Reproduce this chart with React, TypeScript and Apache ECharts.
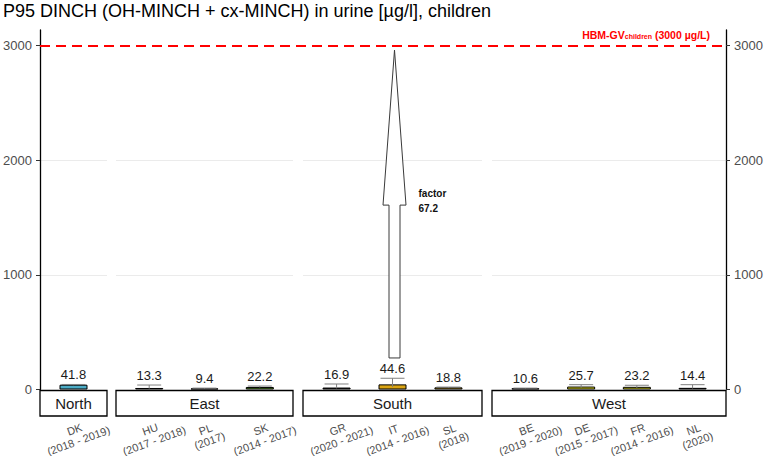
import React, { useEffect, useRef } from "react";
import * as echarts from "echarts";

const TITLE = "P95 DINCH (OH-MINCH + cx-MINCH) in urine [µg/l], children";
const REGIONS = ["North", "East", "South", "West"];
const COUNTRIES = [["DK"], ["HU", "PL", "SK"], ["GR", "IT", "SL"], ["BE", "DE", "FR", "NL"]];
const PERIODS = [
  ["2018 - 2019"],
  ["2017 - 2018", "2017", "2014 - 2017"],
  ["2020 - 2021", "2014 - 2016", "2018"],
  ["2019 - 2020", "2015 - 2017", "2014 - 2016", "2020"],
];
const P95 = [[41.8], [13.3, 9.4, 22.2], [16.9, 44.6, 18.8], [10.6, 25.7, 23.2, 14.4]];
const CI_LOW = [[38], [8, 7, 18], [10, 22, 15], [8, 15, 14, 9]];
const CI_UP = [[44], [39, 12, 30], [48, 98, 21], [12, 42, 37, 42]];
const BAR_COLORS = [
  ["#4bacc6"],
  ["#222222", "#222222", "#4e8a1e"],
  ["#222222", "#dba514", "#c9a227"],
  ["#222222", "#e6e01a", "#e6e01a", "#222222"],
];
const Y_TICKS = [0, 1000, 2000, 3000];
const Y_MAX = 3135;
const HBM_GV = 3000;
const ARROW = { region: 2, index: 1, from: 275, headBase: 1608, to: 2960, factor: "67.2" };

const PANEL_X = [
  [40, 107],
  [116, 293],
  [303, 482],
  [492, 726],
];
const PLOT_TOP = 30;
const PLOT_H = 359.5;
const FONT = "Liberation Sans, Arial, sans-serif";
const LABEL_ROT = (20 * Math.PI) / 180;

export default function App() {
  const ref = useRef<HTMLDivElement>(null);
  useEffect(() => {
    if (!ref.current) return;
    const chart = echarts.init(ref.current, null, { renderer: "svg" });

    const grids: any[] = PANEL_X.map(([a, b]) => ({
      left: a,
      width: b - a,
      top: PLOT_TOP,
      height: PLOT_H,
      outerBoundsMode: "none",
      containLabel: false,
    }));
    grids.push({
      left: PANEL_X[0][0],
      width: PANEL_X[3][1] - PANEL_X[0][0],
      top: PLOT_TOP,
      height: PLOT_H,
      outerBoundsMode: "none",
      containLabel: false,
    });

    const xAxes: any[] = COUNTRIES.map((cs, i) => ({
      type: "value",
      gridIndex: i,
      min: -0.6,
      max: cs.length - 0.4,
      axisLine: { show: false, onZero: false },
      axisTick: { show: false },
      splitLine: { show: false },
      axisLabel: { show: false },
    }));
    xAxes.push({ type: "value", gridIndex: 4, min: 0, max: 1, show: false });

    const yAxes: any[] = COUNTRIES.map((_, i) => {
      const vis = i === 0 || i === 3;
      return {
        type: "value",
        gridIndex: i,
        min: 0,
        max: Y_MAX,
        interval: 1000,
        position: i === 3 ? "right" : "left",
        axisLine: { show: vis, onZero: false, lineStyle: { color: "#000", width: 1.3 } },
        axisTick: { show: vis, length: 4, customValues: Y_TICKS, lineStyle: { color: "#333", width: 1 } },
        axisLabel: {
          show: vis,
          customValues: Y_TICKS,
          formatter: (v: number) => String(v),
          color: "#4d4d4d",
          fontSize: 13,
          margin: 8,
          fontFamily: FONT,
        },
        splitLine: { show: true, showMaxLine: false, showMinLine: false, lineStyle: { color: "#ebebeb", width: 1 } },
      };
    });
    yAxes.push({ type: "value", gridIndex: 4, min: 0, max: Y_MAX, show: false });

    const series: any[] = [];
    COUNTRIES.forEach((cs, i) => {
      series.push({
        type: "bar",
        xAxisIndex: i,
        yAxisIndex: i,
        barWidth: 28,
        data: P95[i].map((v, j) => ({ value: [j, v], itemStyle: { color: BAR_COLORS[i][j] } })),
        itemStyle: { borderColor: "#000", borderWidth: 1 },
        silent: true,
      });
      series.push({
        type: "custom",
        xAxisIndex: i,
        yAxisIndex: i,
        z: 3,
        silent: true,
        clip: false,
        data: P95[i].map((v, j) => [j, v, CI_LOW[i][j], CI_UP[i][j]]),
        renderItem: (params: any, api: any) => {
          const j = params.dataIndex;
          const x = api.value(0);
          const v = api.value(1);
          const lo = api.value(2);
          const hi = api.value(3);
          const top = api.coord([x, hi]);
          const bot = api.coord([x, lo]);
          const vt = api.coord([x, v]);
          const base = api.coord([x, 0]);
          const cx = top[0];
          const half = 12;
          const labelY = Math.min(top[1], vt[1]) - 3;
          return {
            type: "group",
            children: [
              { type: "line", shape: { x1: cx, y1: bot[1], x2: cx, y2: top[1] }, style: { stroke: "#808080", lineWidth: 1 } },
              { type: "line", shape: { x1: cx - half, y1: top[1], x2: cx + half, y2: top[1] }, style: { stroke: "#808080", lineWidth: 1 } },
              {
                type: "text",
                x: cx,
                y: labelY,
                style: { text: v.toFixed(1), fontSize: 13, fill: "#1a1a1a", align: "center", verticalAlign: "bottom", fontFamily: FONT },
              },
              {
                type: "text",
                x: cx + 3,
                y: base[1] + 45.5,
                rotation: LABEL_ROT,
                style: {
                  text: `${cs[j]}\n(${PERIODS[i][j]})`,
                  fontSize: 11,
                  lineHeight: 12,
                  fill: "#4d4d4d",
                  align: "center",
                  verticalAlign: "middle",
                  fontFamily: FONT,
                },
              },
            ],
          };
        },
      });
    });

    series.push({
      type: "custom",
      xAxisIndex: ARROW.region,
      yAxisIndex: ARROW.region,
      z: 5,
      silent: true,
      data: [[ARROW.index, ARROW.from, ARROW.headBase, ARROW.to]],
      renderItem: (params: any, api: any) => {
        const x = api.value(0);
        const b = api.coord([x, api.value(1)]);
        const h = api.coord([x, api.value(2)]);
        const t = api.coord([x, api.value(3)]);
        const cx = b[0] + 2;
        const sw = 5.5;
        const hw = 11.5;
        return {
          type: "group",
          children: [
            {
              type: "polygon",
              shape: {
                points: [
                  [cx - sw, b[1]],
                  [cx + sw, b[1]],
                  [cx + sw, h[1]],
                  [cx + hw, h[1]],
                  [cx, t[1]],
                  [cx - hw, h[1]],
                  [cx - sw, h[1]],
                ],
              },
              style: { fill: "#ffffff", stroke: "#3a3a3a", lineWidth: 1 },
            },
            {
              type: "text",
              x: cx + 24,
              y: h[1] - 19,
              style: {
                text: `factor\n${ARROW.factor}`,
                fontSize: 10,
                fontWeight: "bold",
                lineHeight: 15,
                fill: "#111",
                align: "left",
                verticalAlign: "top",
                fontFamily: FONT,
              },
            },
          ],
        };
      },
    });

    series.push({
      type: "line",
      xAxisIndex: 4,
      yAxisIndex: 4,
      data: [],
      silent: true,
      markLine: {
        silent: true,
        symbol: "none",
        data: [{ yAxis: HBM_GV }],
        lineStyle: { color: "#ff0000", type: [10, 6], width: 2 },
        label: {
          position: "insideEndTop",
          padding: [0, 11, 0, 0],
          formatter: `{a|HBM-GV}{b|children}{a| (${HBM_GV} µg/L)}`,
          rich: {
            a: { color: "#ff0000", fontSize: 10.5, fontWeight: "bold", fontFamily: FONT },
            b: { color: "#ff0000", fontSize: 7, fontWeight: "bold", fontFamily: FONT, verticalAlign: "bottom" },
          },
        },
      },
    });

    const graphic: any[] = [];
    PANEL_X.forEach(([a, b], i) => {
      graphic.push({
        type: "rect",
        shape: { x: a, y: 390.5, width: b - a, height: 25.5 },
        style: { fill: "#ffffff", stroke: "#000", lineWidth: 1.3 },
        z: 10,
      });
      graphic.push({
        type: "text",
        x: (a + b) / 2,
        y: 403.5,
        style: { text: REGIONS[i], fontSize: 15, fill: "#1a1a1a", align: "center", verticalAlign: "middle", fontFamily: FONT },
        z: 11,
      });
    });

    chart.setOption({
      animation: false,
      backgroundColor: "#ffffff",
      title: {
        text: TITLE,
        left: 3,
        top: 2,
        padding: 0,
        textStyle: { fontSize: 18, fontWeight: "normal", color: "#000", fontFamily: FONT },
      },
      grid: grids,
      xAxis: xAxes,
      yAxis: yAxes,
      series,
      graphic,
    });
    return () => chart.dispose();
  }, []);
  return <div ref={ref} style={{ position: "fixed", left: 0, top: 0, width: 765, height: 456 }} />;
}
